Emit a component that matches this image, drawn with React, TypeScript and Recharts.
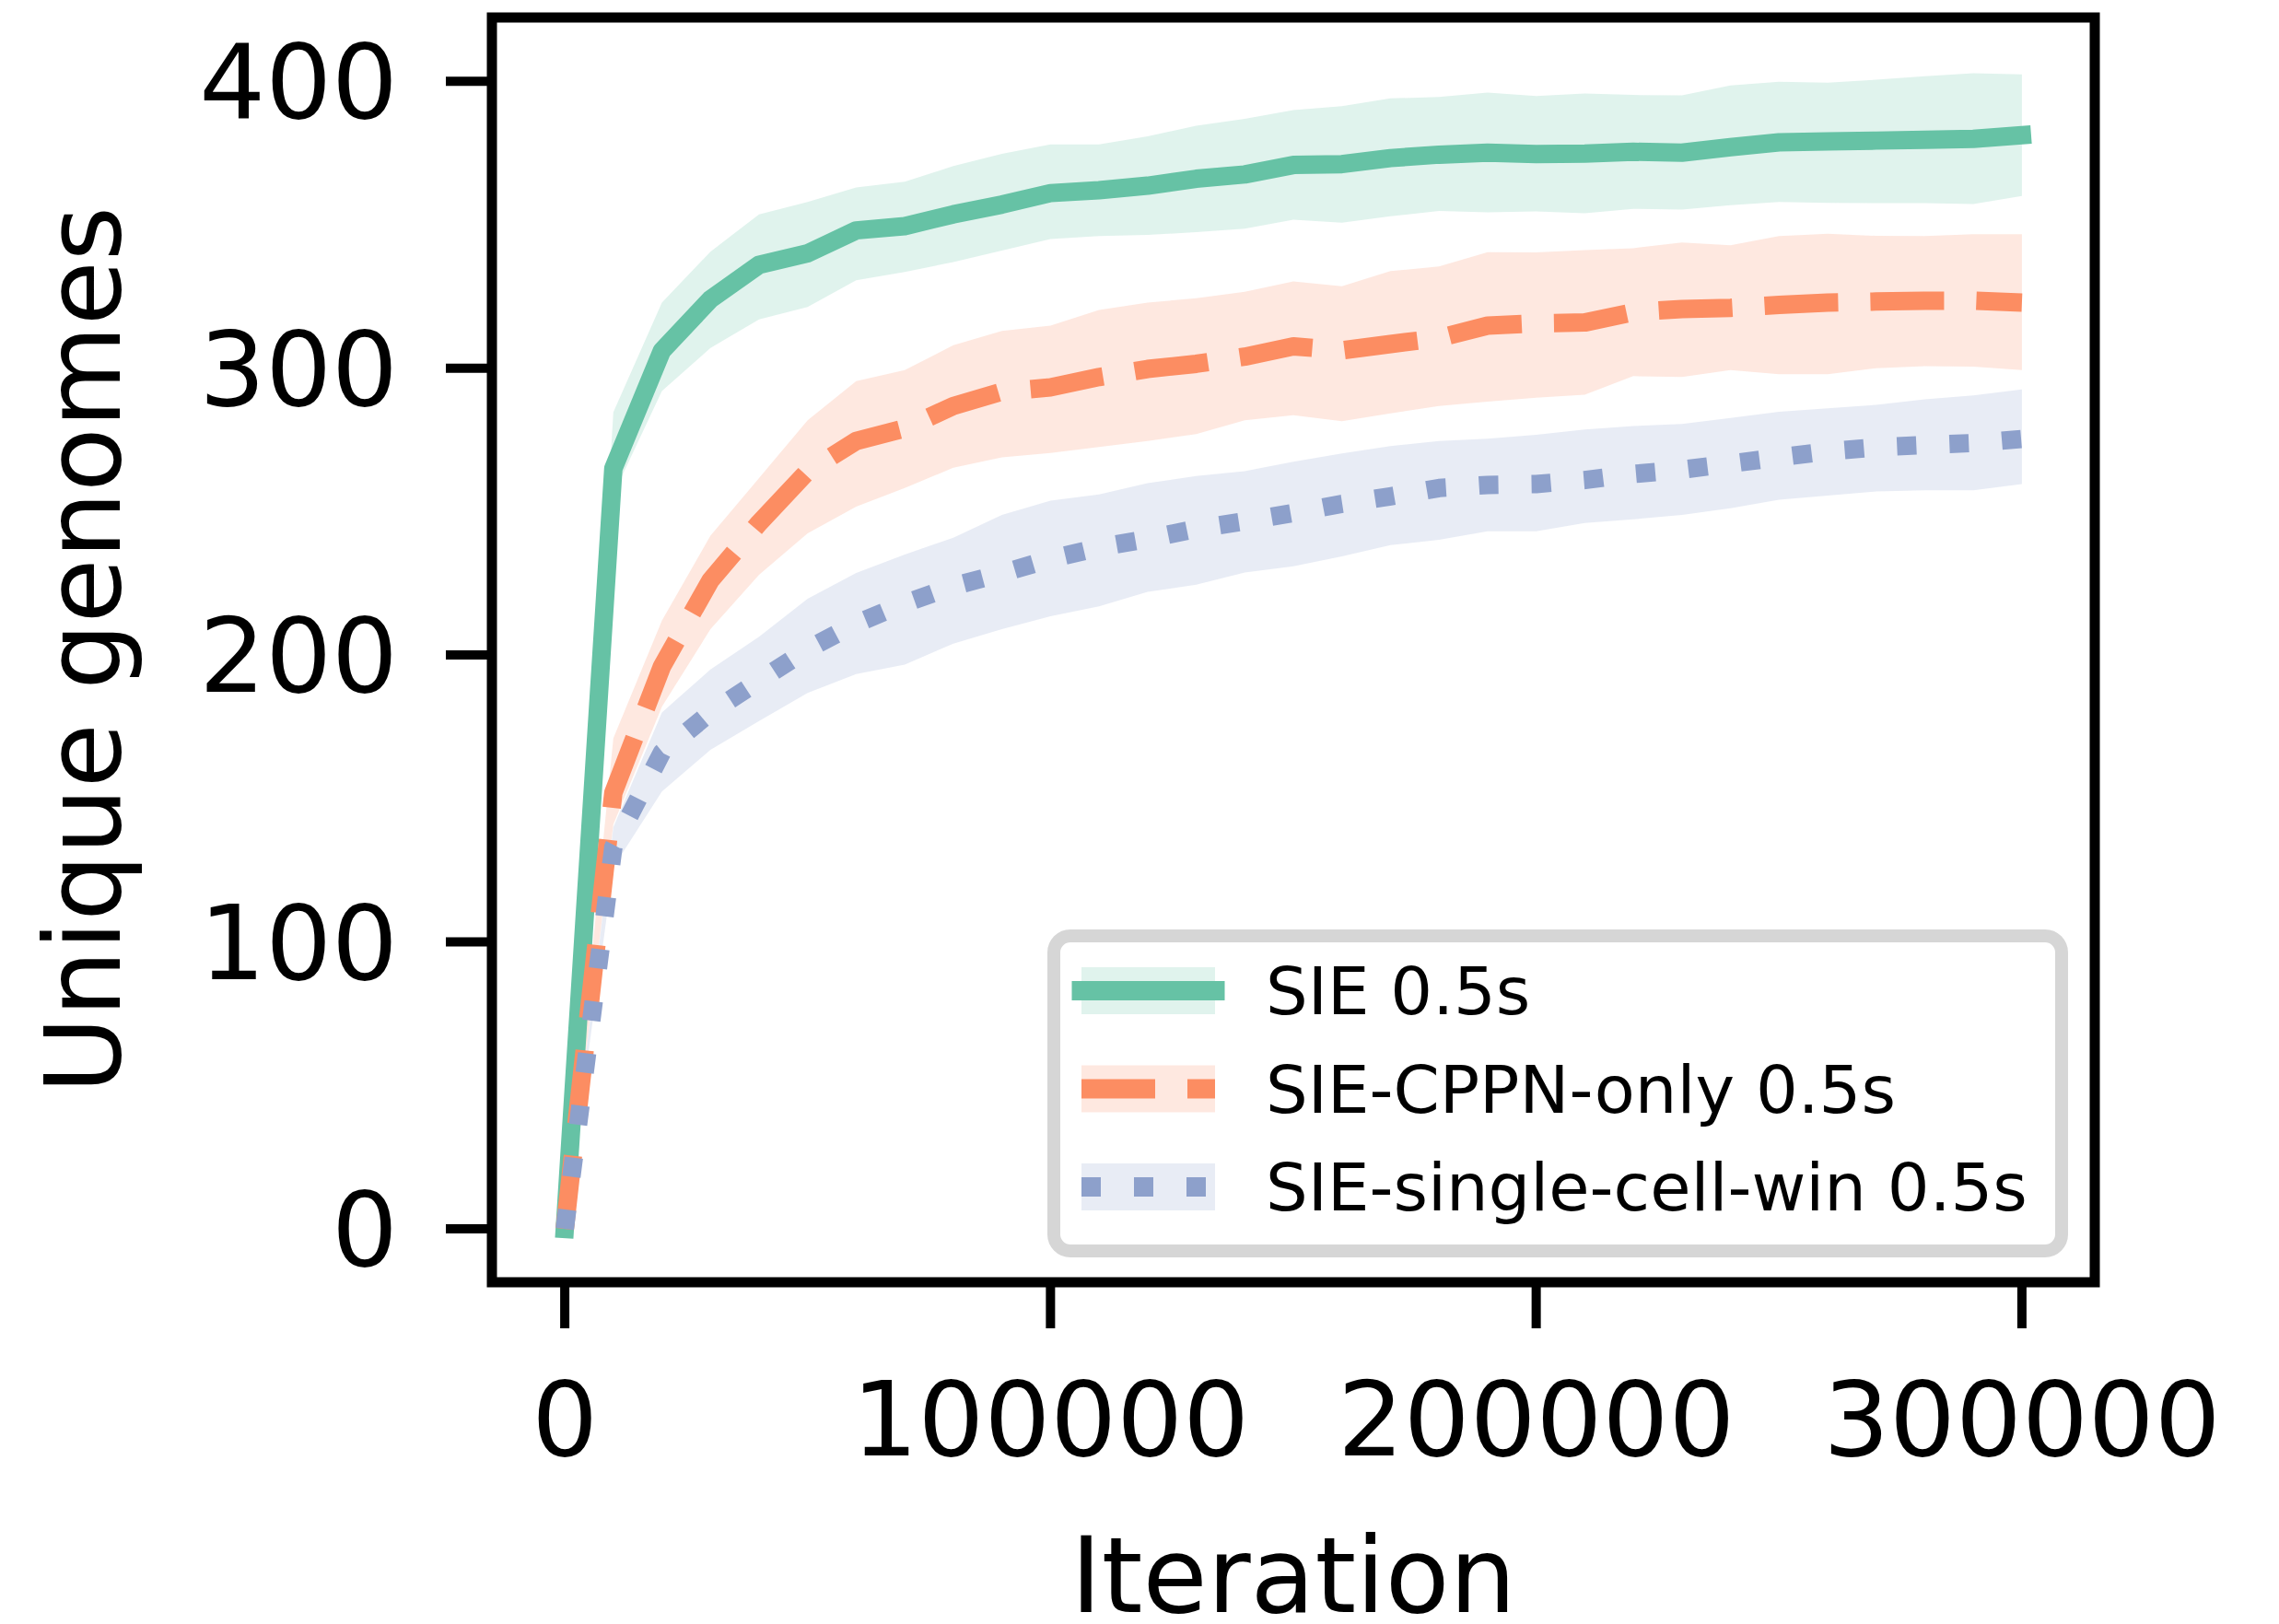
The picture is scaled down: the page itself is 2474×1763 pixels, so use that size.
import React from 'react';
import { ComposedChart, Line, Area, XAxis, YAxis, ReferenceArea, Legend } from 'recharts';

const iterations = [0, 10000, 20000, 30000, 40000, 50000, 60000, 70000, 80000, 90000, 100000, 110000, 120000, 130000, 140000, 150000, 160000, 170000, 180000, 190000, 200000, 210000, 220000, 230000, 240000, 250000, 260000, 270000, 280000, 290000, 300000];

const sieMean = [0, 265, 306, 324, 336, 340, 348, 349.5, 353.6, 357, 361, 362, 363.6, 366, 367.5, 370.8, 371.1, 373.2, 374.4, 375.1, 374.6, 374.8, 375.4, 375.1, 377, 378.7, 379, 379.3, 379.6, 379.9, 381.2];
const sieUpper = [0, 284.6, 322.8, 340.6, 353.6, 357.9, 363, 365, 370.4, 374.7, 378, 378, 380.8, 384.5, 386.9, 389.9, 391.3, 394, 394.5, 396, 394.8, 395.7, 395.2, 395.1, 398.5, 399.8, 399.5, 400.5, 401.7, 402.8, 402.4];
const sieLower = [0, 256, 292, 307, 317, 321.3, 330.6, 333.5, 337, 341, 345, 346, 346.4, 347.4, 348.6, 351.7, 350.7, 352.9, 354.8, 354.3, 354.6, 354, 355.5, 355.3, 356.8, 357.9, 357.6, 357.5, 357.5, 357.2, 360];

const cppnMean = [0, 152, 196, 226, 246, 264, 274.6, 279, 286.8, 291.8, 293.3, 296.9, 299.7, 301.5, 304, 307.6, 306.2, 308.4, 310.5, 314.8, 315.6, 315.9, 319.5, 320.6, 321, 322, 322.8, 323.2, 323.5, 323.5, 322.8];
const cppnUpper = [0, 171, 212, 241.6, 261.7, 281.8, 295.5, 299.3, 308, 313, 314.8, 320.3, 322.8, 324.4, 326.6, 330.2, 328.5, 333.8, 335.4, 340.4, 340.3, 341.1, 341.8, 343.8, 342.8, 346, 346.8, 346.1, 346, 346.7, 346.7];
const cppnLower = [0, 141, 182, 209, 228, 242.4, 251.7, 258.2, 265.3, 268.9, 270.4, 272.5, 274.6, 277, 281.8, 283.6, 281.5, 284.2, 286.8, 288.3, 289.7, 290.7, 297.2, 296.9, 299.3, 297.9, 297.9, 300, 300.7, 300.5, 299.3];

const singleMean = [0, 133, 166, 180, 191, 202, 211, 218, 224, 228.5, 233.5, 237.5, 240.5, 244, 246.6, 249.5, 252.7, 255.3, 258.2, 259.3, 259.6, 261, 263.1, 264.6, 266.7, 268.9, 271, 272.4, 273.2, 273.9, 275.3];
const singleUpper = [0, 140, 180, 195, 206.4, 219.6, 228.6, 235, 240.9, 248.8, 253.8, 256, 259.9, 262.4, 264.1, 267.4, 270.3, 272.8, 274.6, 275.4, 276.8, 278.6, 279.8, 280.5, 282.6, 284.8, 286, 287.2, 289.1, 290.5, 292.6];
const singleLower = [0, 126, 152.4, 167, 177, 186.8, 193.4, 196.7, 204, 209, 213.5, 217, 222, 224.5, 228.8, 230.9, 234.4, 238.3, 240.2, 243.1, 243.1, 246, 247.3, 248.8, 251.2, 254.1, 255.6, 257, 257.4, 257.4, 259.6];

const xTicks = [0, 100000, 200000, 300000];
const yTicks = [0, 100, 200, 300, 400];

const seriesNames = ['SIE 0.5s', 'SIE-CPPN-only 0.5s', 'SIE-single-cell-win 0.5s'];
const colors = ['#66c2a5', '#fc8d62', '#8da0cb'];
const dashes = ['', '80 35', '21 36'];

const data = iterations.map((it, i) => ({
  it,
  sie: sieMean[i],
  sieBand: [sieLower[i], sieUpper[i]],
  cppn: cppnMean[i],
  cppnBand: [cppnLower[i], cppnUpper[i]],
  single: singleMean[i],
  singleBand: [singleLower[i], singleUpper[i]],
}));

const FONT = '"DejaVu Sans", "Liberation Sans", sans-serif';

const renderLegend = () => (
  <svg width={1108} height={356} style={{ display: 'block' }}>
    <rect x={7} y={7} width={1094} height={342} rx={18} ry={18} fill="#ffffff" stroke="#d6d6d6" strokeWidth={14} />
    {seriesNames.map((name, i) => {
      const cy = 66.5 + i * 106.5;
      return (
        <g key={name}>
          <rect x={37} y={cy - 25.5} width={145} height={51} fill={colors[i]} fillOpacity={0.2} />
          <line x1={37} x2={182} y1={cy} y2={cy} stroke={colors[i]} strokeWidth={21}
            strokeDasharray={dashes[i] || undefined} strokeLinecap={i === 0 ? 'square' : 'butt'} />
          <text x={237} y={cy + 25.5} fontSize={72} fontFamily={FONT} fill="#000">{name}</text>
        </g>
      );
    })}
  </svg>
);

export default function App() {
  return (
    <div style={{ position: 'absolute', left: 0, top: 0, width: 2474, height: 1763, background: '#fff' }}>
      <ComposedChart width={2474} height={1763} data={data}
        margin={{ top: 19, right: 200, bottom: 171, left: 134 }}>
        <XAxis dataKey="it" type="number" domain={[-15000, 315000]} ticks={xTicks} allowDataOverflow
          height={200} axisLine={false} tickSize={50} tickMargin={58}
          tickLine={{ stroke: '#000', strokeWidth: 10 }}
          tick={{ fill: '#000', fontSize: 113, fontFamily: FONT }}
          interval={0}
          label={{
            content: (props: any) => {
              const vb = props.viewBox || { x: 534, width: 1740 };
              return (
                <text x={vb.x + vb.width / 2} y={1750} textAnchor="middle" fontSize={114} fontFamily={FONT} fill="#000">Iteration</text>
              );
            },
          }}
        />
        <YAxis type="number" domain={[-18.6, 422.2]} ticks={yTicks} allowDataOverflow
          width={400} axisLine={false} tickSize={50} tickMargin={52}
          tickLine={{ stroke: '#000', strokeWidth: 10 }}
          tick={{ fill: '#000', fontSize: 113, fontFamily: FONT }}
          interval={0}
          label={{
            content: (props: any) => {
              const vb = props.viewBox || { y: 19, height: 1373 };
              const cy = vb.y + vb.height / 2;
              return (
                <text x={130} y={cy} transform={`rotate(-90 130 ${cy})`} textAnchor="middle" fontSize={114} fontFamily={FONT} fill="#000">Unique genomes</text>
              );
            },
          }}
        />
        <Area type="linear" dataKey="sieBand" stroke="none" fill={colors[0]} fillOpacity={0.2} isAnimationActive={false} dot={false} activeDot={false} />
        <Line type="linear" dataKey="sie" stroke={colors[0]} strokeWidth={20} dot={false} activeDot={false} strokeLinecap="square" strokeLinejoin="round" isAnimationActive={false} />
        <Area type="linear" dataKey="cppnBand" stroke="none" fill={colors[1]} fillOpacity={0.2} isAnimationActive={false} dot={false} activeDot={false} />
        <Line type="linear" dataKey="cppn" stroke={colors[1]} strokeWidth={20} strokeDasharray={dashes[1]} dot={false} activeDot={false} strokeLinejoin="round" isAnimationActive={false} />
        <Area type="linear" dataKey="singleBand" stroke="none" fill={colors[2]} fillOpacity={0.2} isAnimationActive={false} dot={false} activeDot={false} />
        <Line type="linear" dataKey="single" stroke={colors[2]} strokeWidth={20} strokeDasharray={dashes[2]} dot={false} activeDot={false} strokeLinejoin="round" isAnimationActive={false} />
        <ReferenceArea x1={-15000} x2={315000} y1={-18.6} y2={422.2} fill="none" stroke="#000" strokeWidth={11} ifOverflow="visible" />
        <Legend layout="vertical" align="center" verticalAlign="middle" content={renderLegend}
          wrapperStyle={{ position: 'absolute', left: 1137, top: 1009, width: 1108, height: 356 }} />
      </ComposedChart>
    </div>
  );
}
